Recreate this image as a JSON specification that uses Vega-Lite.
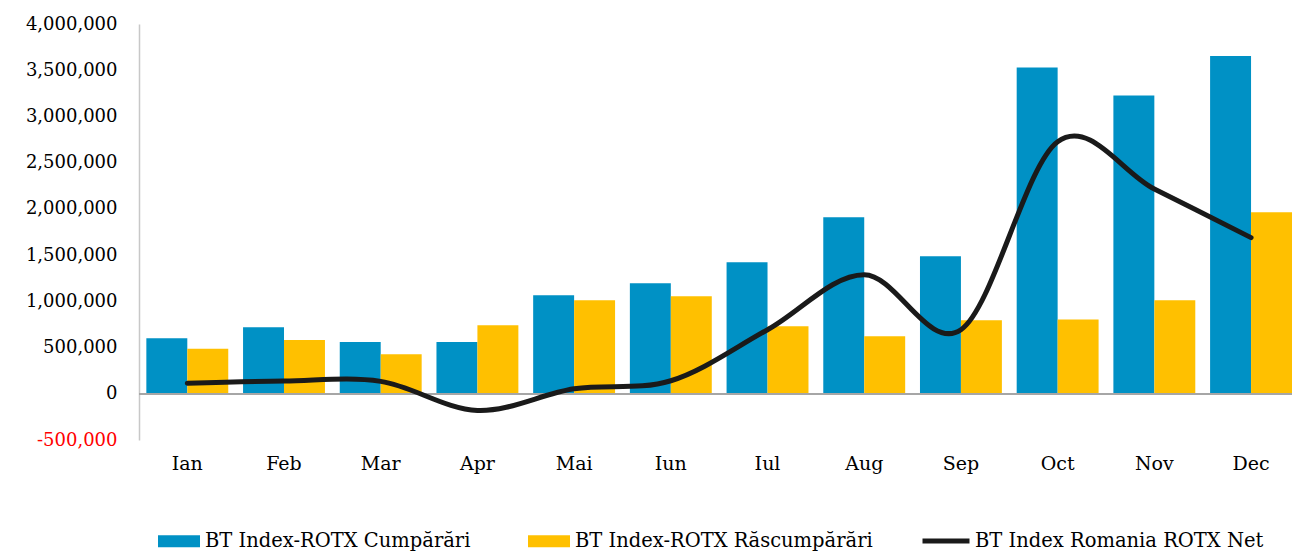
{
  "$schema": "https://vega.github.io/schema/vega-lite/v6.json",
  "autosize": {"type": "none"},
  "width": 1153,
  "height": 416,
  "padding": {"left": 139, "top": 24, "right": 0, "bottom": 116},
  "background": "white",
  "config": {"view": {"stroke": null}, "font": "DejaVu Serif"},
  "datasets": {
    "bars": [
      {"month": "Ian", "series": "BT Index-ROTX Cumpărări", "value": 602000},
      {"month": "Ian", "series": "BT Index-ROTX Răscumpărări", "value": 487000},
      {"month": "Feb", "series": "BT Index-ROTX Cumpărări", "value": 720000},
      {"month": "Feb", "series": "BT Index-ROTX Răscumpărări", "value": 582000},
      {"month": "Mar", "series": "BT Index-ROTX Cumpărări", "value": 561000},
      {"month": "Mar", "series": "BT Index-ROTX Răscumpărări", "value": 427000},
      {"month": "Apr", "series": "BT Index-ROTX Cumpărări", "value": 561000},
      {"month": "Apr", "series": "BT Index-ROTX Răscumpărări", "value": 741000},
      {"month": "Mai", "series": "BT Index-ROTX Cumpărări", "value": 1066000},
      {"month": "Mai", "series": "BT Index-ROTX Răscumpărări", "value": 1012000},
      {"month": "Iun", "series": "BT Index-ROTX Cumpărări", "value": 1196000},
      {"month": "Iun", "series": "BT Index-ROTX Răscumpărări", "value": 1055000},
      {"month": "Iul", "series": "BT Index-ROTX Cumpărări", "value": 1423000},
      {"month": "Iul", "series": "BT Index-ROTX Răscumpărări", "value": 730000},
      {"month": "Aug", "series": "BT Index-ROTX Cumpărări", "value": 1910000},
      {"month": "Aug", "series": "BT Index-ROTX Răscumpărări", "value": 622000},
      {"month": "Sep", "series": "BT Index-ROTX Cumpărări", "value": 1488000},
      {"month": "Sep", "series": "BT Index-ROTX Răscumpărări", "value": 795000},
      {"month": "Oct", "series": "BT Index-ROTX Cumpărări", "value": 3530000},
      {"month": "Oct", "series": "BT Index-ROTX Răscumpărări", "value": 803000},
      {"month": "Nov", "series": "BT Index-ROTX Cumpărări", "value": 3227000},
      {"month": "Nov", "series": "BT Index-ROTX Răscumpărări", "value": 1012000},
      {"month": "Dec", "series": "BT Index-ROTX Cumpărări", "value": 3653000},
      {"month": "Dec", "series": "BT Index-ROTX Răscumpărări", "value": 1964000}
    ],
    "net": [
      {"month": "Ian", "series": "BT Index Romania ROTX Net", "value": 115000},
      {"month": "Feb", "series": "BT Index Romania ROTX Net", "value": 138000},
      {"month": "Mar", "series": "BT Index Romania ROTX Net", "value": 134000},
      {"month": "Apr", "series": "BT Index Romania ROTX Net", "value": -180000},
      {"month": "Mai", "series": "BT Index Romania ROTX Net", "value": 54000},
      {"month": "Iun", "series": "BT Index Romania ROTX Net", "value": 141000},
      {"month": "Iul", "series": "BT Index Romania ROTX Net", "value": 693000},
      {"month": "Aug", "series": "BT Index Romania ROTX Net", "value": 1288000},
      {"month": "Sep", "series": "BT Index Romania ROTX Net", "value": 693000},
      {"month": "Oct", "series": "BT Index Romania ROTX Net", "value": 2727000},
      {"month": "Nov", "series": "BT Index Romania ROTX Net", "value": 2215000},
      {"month": "Dec", "series": "BT Index Romania ROTX Net", "value": 1689000}
    ]
  },
  "encoding": {
    "x": {
      "field": "month",
      "type": "nominal",
      "sort": ["Ian", "Feb", "Mar", "Apr", "Mai", "Iun", "Iul", "Aug", "Sep", "Oct", "Nov", "Dec"],
      "scale": {"paddingInner": 0.153, "paddingOuter": 0.038, "align": 1},
      "axis": {
        "title": null,
        "domain": false,
        "ticks": false,
        "labelAngle": 0,
        "labelFont": "DejaVu Serif",
        "labelFontSize": 19,
        "labelColor": "#000000",
        "labelPadding": 14
      }
    },
    "y": {
      "field": "value",
      "type": "quantitative",
      "scale": {"domain": [-500000, 4000000], "nice": false, "zero": false},
      "axis": {
        "title": null,
        "values": [-500000, 0, 500000, 1000000, 1500000, 2000000, 2500000, 3000000, 3500000, 4000000],
        "labelExpr": "(datum.value < 0 ? '-' : '') + format(abs(datum.value), ',')",
        "grid": false,
        "ticks": false,
        "domainColor": "#c8c8c8",
        "domainWidth": 1.5,
        "labelFont": "DejaVu Serif",
        "labelFontSize": 18,
        "labelPadding": 22,
        "labelColor": {"condition": {"test": "datum.value < 0", "value": "#ff0000"}, "value": "#000000"}
      }
    }
  },
  "layer": [
    {
      "data": {"name": "bars"},
      "mark": {"type": "bar", "clip": true},
      "encoding": {
        "xOffset": {"field": "series", "type": "nominal", "scale": {"paddingInner": 0, "paddingOuter": 0}},
        "fill": {
          "field": "series",
          "type": "nominal",
          "scale": {"domain": ["BT Index-ROTX Cumpărări", "BT Index-ROTX Răscumpărări"], "range": ["#0091C5", "#FFC000"]},
          "legend": {
            "title": null,
            "orient": "none",
            "direction": "horizontal",
            "legendX": 19,
            "legendY": 496,
            "symbolType": "M-1,-0.29H1V0.29H-1Z",
            "symbolSize": 1764,
            "symbolStrokeWidth": 0,
            "labelFont": "DejaVu Serif",
            "labelFontSize": 19.5,
            "labelColor": "#000000",
            "labelOffset": 5,
            "labelLimit": 400,
            "columnPadding": 57
          }
        }
      }
    },
    {
      "data": {"name": "net"},
      "mark": {"type": "rule", "color": "#a6a6a6", "strokeWidth": 1.5},
      "encoding": {"y": {"datum": 0}, "x": null}
    },
    {
      "data": {"name": "net"},
      "mark": {"type": "line", "interpolate": "cardinal", "tension": 0, "strokeWidth": 5, "strokeCap": "round"},
      "encoding": {
        "stroke": {
          "field": "series",
          "type": "nominal",
          "scale": {"domain": ["BT Index Romania ROTX Net"], "range": ["#1a1a1a"]},
          "legend": {
            "title": null,
            "orient": "none",
            "legendX": 781,
            "legendY": 491,
            "symbolType": "stroke",
            "symbolSize": 2209,
            "symbolStrokeWidth": 5,
            "labelFont": "DejaVu Serif",
            "labelFontSize": 19.5,
            "labelColor": "#000000",
            "labelOffset": 3,
            "labelLimit": 400
          }
        }
      }
    }
  ]
}
